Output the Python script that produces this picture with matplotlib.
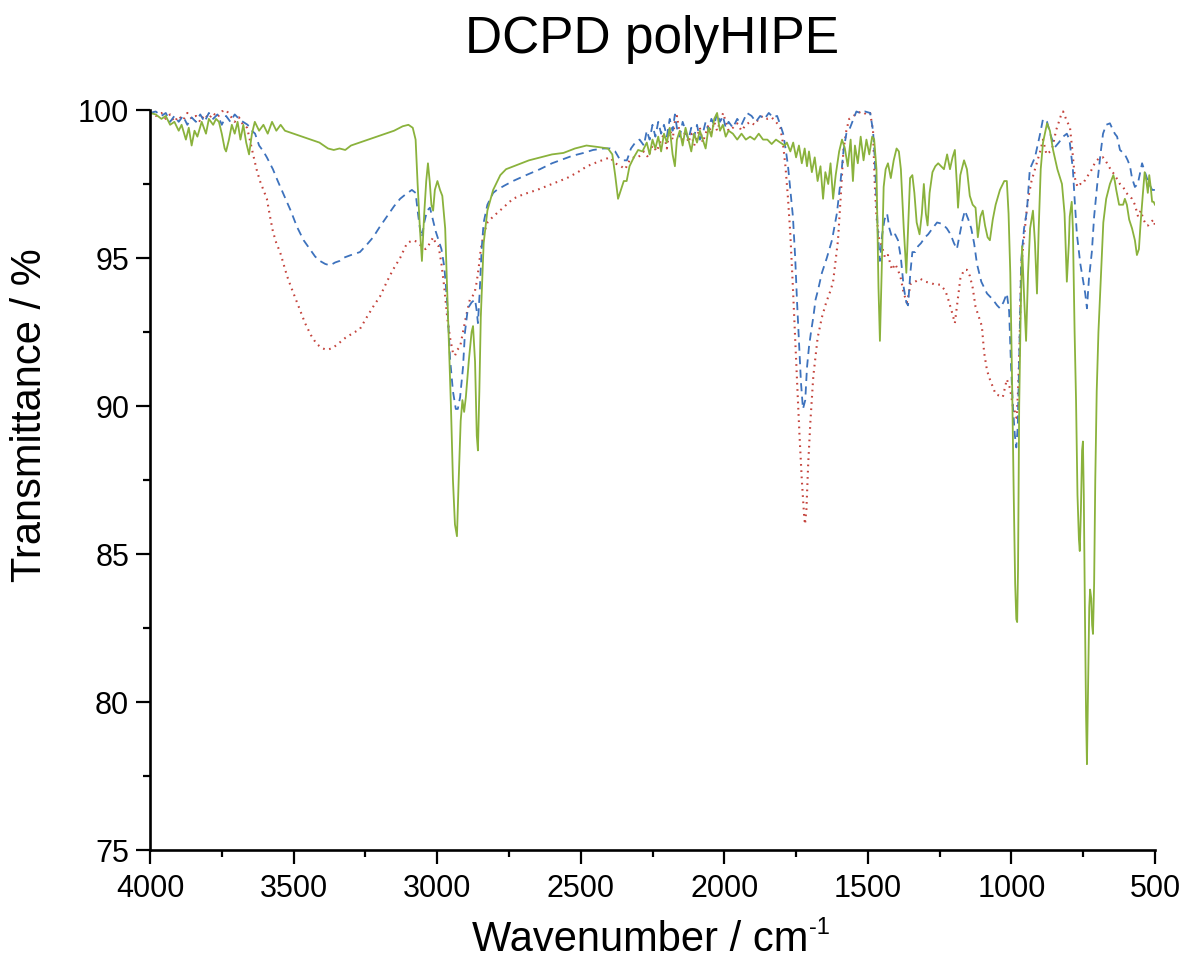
import matplotlib
matplotlib.use("Agg")
import matplotlib.pyplot as plt

plt.rcParams["font.family"] = ["Liberation Sans", "DejaVu Sans"]

# ──────────────────────────────────────────────
#  Data (wavenumber in cm-1, transmittance in %)
# ──────────────────────────────────────────────
green_wn = [
    4000, 3980, 3960, 3945, 3930, 3915, 3900, 3890, 3875, 3865, 3855, 3845, 3835, 3820,
    3805, 3795, 3780, 3770, 3760, 3750, 3740, 3735, 3725, 3715, 3705, 3695, 3685, 3675,
    3665, 3655, 3645, 3635, 3620, 3605, 3590, 3575, 3560, 3545, 3530, 3500, 3470, 3440,
    3410, 3380, 3360, 3340, 3320, 3300, 3270, 3240, 3210, 3180, 3150, 3120, 3100, 3085,
    3075, 3068, 3060, 3053, 3045, 3038, 3032, 3026, 3020, 3014, 3008, 2999, 2990, 2982,
    2972, 2962, 2952, 2945, 2938, 2931, 2925, 2918, 2912, 2906, 2900, 2890, 2880, 2875,
    2868, 2862, 2858, 2853, 2848, 2838, 2825, 2805, 2780, 2760, 2720, 2680, 2640, 2600,
    2560, 2520, 2480, 2440, 2405, 2390, 2380, 2370, 2360, 2350, 2340, 2330, 2315, 2300,
    2285, 2270, 2260, 2250, 2240, 2230, 2220, 2210, 2200, 2190, 2180, 2172, 2165, 2155,
    2145, 2135, 2125, 2115, 2105, 2095, 2085, 2075, 2065, 2055, 2045, 2035, 2025, 2015,
    2005, 1995, 1985, 1970, 1955, 1940, 1925, 1910, 1895, 1880, 1865, 1850, 1835, 1820,
    1805, 1790, 1782, 1770, 1760, 1750, 1740, 1730, 1720, 1712, 1705, 1695, 1685, 1675,
    1665, 1656, 1648, 1638, 1630, 1621, 1612, 1600, 1590, 1580, 1570, 1560, 1552, 1545,
    1535, 1525, 1515, 1505, 1495, 1485, 1478, 1470, 1463, 1458, 1452, 1445, 1438, 1430,
    1420, 1410, 1400, 1392, 1385, 1375, 1366, 1360, 1353, 1345, 1338, 1330, 1320, 1312,
    1305, 1298, 1292, 1285, 1275, 1265, 1255, 1245, 1235, 1224, 1214, 1205, 1197, 1190,
    1186, 1178, 1165, 1155, 1145, 1135, 1125, 1117, 1108, 1100, 1092, 1083, 1075, 1065,
    1055, 1040, 1025, 1016, 1010, 1004, 998, 992, 987, 983, 980, 977, 973, 968,
    963, 955, 949, 942, 935, 925, 918, 911, 905, 898, 890, 876, 866, 855,
    840, 824, 815, 807, 800, 797, 790, 786, 780, 775, 770, 765, 762, 758,
    754, 751, 748, 744, 740, 737, 733, 729, 726, 722, 719, 716, 712, 708,
    703, 697, 692, 686, 680, 670, 657, 645, 640, 635, 625, 611, 605, 598,
    590, 580, 570, 563, 556, 550, 542, 536, 530, 525, 520, 515, 510, 505, 500,
]
green_t = [
    99.9, 99.85, 99.7, 99.8, 99.5, 99.6, 99.3, 99.5, 99.0, 99.4, 98.8, 99.3, 99.1, 99.6,
    99.2, 99.7, 99.5, 99.7, 99.6, 99.2, 98.7, 98.6, 99.0, 99.5, 99.2, 99.6, 99.0, 99.5,
    98.9, 98.5, 99.2, 99.6, 99.3, 99.5, 99.2, 99.6, 99.3, 99.5, 99.3, 99.2, 99.1, 99.0,
    98.9, 98.7, 98.65, 98.7, 98.65, 98.8, 98.9, 99.0, 99.1, 99.2, 99.3, 99.45, 99.5, 99.4,
    99.0, 97.5, 96.0, 94.9, 96.5, 97.6, 98.2, 97.6, 96.8, 96.6, 97.3, 97.6, 97.3, 97.1,
    96.0, 93.0, 90.0, 87.5, 86.0, 85.6, 87.5, 89.5, 90.2, 89.8, 90.3, 91.5, 92.5, 92.7,
    91.5, 89.0, 88.5, 90.5, 93.0, 95.5, 96.6, 97.3, 97.8, 98.0, 98.15, 98.3, 98.4, 98.5,
    98.55, 98.7, 98.8, 98.75, 98.7, 98.5, 97.8, 97.0, 97.3, 97.6, 97.6, 98.1, 98.4, 98.65,
    98.6, 98.9, 98.5, 99.0, 98.7, 99.1, 98.6, 99.2, 98.9, 99.4, 98.5, 98.1, 99.0, 99.3,
    98.8, 99.4, 99.0, 98.6, 99.2, 98.9, 99.3, 99.0, 98.7, 99.4, 99.1, 99.7, 99.9, 99.3,
    99.5, 99.1, 99.3, 99.2, 99.0, 99.2, 99.0, 99.1, 99.0, 99.2, 99.0, 99.0, 98.85, 99.0,
    98.9, 98.8, 98.9, 98.6, 98.9, 98.4, 98.8, 98.2, 98.7, 98.1, 98.6, 97.9, 98.4, 97.6,
    98.1, 97.0, 97.9, 97.5, 98.2, 97.0, 97.8, 98.6, 99.0, 98.7, 98.1, 99.0, 97.6, 98.8,
    98.2, 99.1, 98.3, 99.0, 98.5, 99.1, 99.0, 98.0, 94.0, 92.2, 94.5, 97.4, 98.0, 98.2,
    97.7, 98.3, 98.7, 98.6, 98.0, 96.0, 94.5, 96.0, 97.7, 97.8, 97.2, 96.2, 95.8, 96.5,
    97.5, 96.5, 96.1, 97.2, 97.9, 98.1, 98.2, 98.1, 98.0, 98.5, 98.0, 98.4, 98.65, 97.5,
    96.7, 97.8, 98.3, 98.0, 97.1, 96.8, 96.7, 95.7, 96.4, 96.6, 96.1, 95.7, 95.6, 96.3,
    96.8, 97.3, 97.6, 97.6, 96.5, 94.5, 91.0, 87.0, 84.0, 82.8, 82.7, 84.5, 90.0, 93.0,
    95.4, 93.5, 92.2, 94.5, 96.0, 96.6, 95.5, 93.8, 96.0, 98.0, 98.9, 99.55, 99.3, 98.65,
    98.0, 97.5, 96.5, 94.2, 95.5, 96.4, 96.9, 96.0, 92.5, 90.2, 87.0, 85.5, 85.1, 86.5,
    88.5, 88.8, 87.0, 83.0, 79.5, 77.9, 80.5, 83.2, 83.8, 83.5, 82.6, 82.3, 84.0, 87.5,
    90.5, 92.5, 93.6, 95.0, 96.2, 97.0, 97.5, 97.8, 97.6, 97.3, 96.8, 96.8, 97.0, 96.8,
    96.3, 96.0, 95.6, 95.1, 95.3, 96.2, 97.2, 97.9, 97.6, 97.2, 97.8, 97.4, 96.9, 96.9, 96.8,
]

blue_wn = [
    4000, 3980, 3960, 3945, 3930, 3915, 3900, 3885, 3870, 3855, 3840, 3825, 3810, 3795,
    3780, 3765, 3750, 3735, 3720, 3705, 3690, 3676, 3660, 3645, 3634, 3620, 3605, 3593,
    3572, 3555, 3537, 3510, 3488, 3465, 3443, 3425, 3408, 3390, 3373, 3355, 3340, 3328,
    3300, 3269, 3245, 3223, 3200, 3175, 3150, 3129, 3110, 3088, 3075, 3068, 3060, 3053,
    3045, 3035, 3025, 3015, 3005, 2995, 2985, 2975, 2965, 2955, 2945, 2935, 2928, 2920,
    2910, 2903, 2893, 2880, 2868, 2862, 2858, 2852, 2845, 2838, 2825, 2805, 2792, 2765,
    2736, 2690, 2642, 2600, 2572, 2530, 2490, 2457, 2420, 2398, 2380, 2365, 2350, 2339,
    2325, 2310, 2295, 2280, 2270, 2260, 2250, 2240, 2230, 2220, 2210, 2200, 2190, 2180,
    2172, 2165, 2155, 2145, 2135, 2125, 2115, 2105, 2095, 2085, 2075, 2065, 2055, 2045,
    2035, 2025, 2015, 2005, 1995, 1985, 1970, 1955, 1940, 1921, 1905, 1890, 1875, 1860,
    1845, 1830, 1816, 1805, 1795, 1785, 1778, 1770, 1761, 1753, 1747, 1740, 1733, 1726,
    1718, 1712, 1705, 1698, 1690, 1682, 1674, 1660, 1643, 1625, 1608, 1595, 1585, 1575,
    1562, 1550, 1540, 1527, 1510, 1492, 1482, 1476, 1470, 1465, 1458, 1450, 1442, 1433,
    1425, 1416, 1405, 1395, 1385, 1375, 1366, 1360, 1352, 1345, 1335, 1325, 1315, 1301,
    1290, 1275, 1259, 1240, 1225, 1212, 1200, 1190, 1180, 1170, 1162, 1150, 1140, 1130,
    1120, 1105, 1085, 1065, 1050, 1040, 1028, 1016, 1008, 1002, 995, 988, 983, 978,
    972, 966, 956, 946, 936, 918, 900, 890, 876, 865, 855, 848, 835, 820,
    807, 798, 786, 780, 772, 760, 750, 743, 737, 730, 720, 712, 700, 690,
    681, 670, 657, 650, 640, 632, 622, 605, 595, 587, 580, 570, 560, 545,
    535, 525, 515, 510, 500,
]
blue_t = [
    99.9, 99.95, 99.8, 99.9, 99.6, 99.8, 99.6, 99.8, 99.5, 99.75, 99.6, 99.85, 99.6, 99.9,
    99.7, 99.85, 99.5, 99.8, 99.6, 99.85, 99.7, 99.6, 99.5, 99.3, 99.2, 98.8, 98.6, 98.4,
    98.0, 97.6, 97.2, 96.6, 96.05, 95.6, 95.3, 95.05, 94.9, 94.8, 94.75, 94.85, 94.9, 95.0,
    95.1, 95.2, 95.45, 95.7, 96.05, 96.4, 96.75, 97.0, 97.15, 97.3, 97.2, 96.6, 96.0, 95.7,
    96.2, 96.6, 96.7, 96.3, 95.9, 95.6, 95.3, 94.7, 93.5, 91.6, 90.5, 89.9, 89.9, 90.3,
    91.3, 92.5, 93.3, 93.5, 93.6, 93.2, 92.8, 93.8, 95.3, 96.2, 96.8, 97.2, 97.3, 97.45,
    97.6, 97.8, 98.0, 98.2, 98.3, 98.45, 98.55, 98.65, 98.7, 98.7, 98.6, 98.35, 98.3, 98.3,
    98.7, 98.9, 99.0, 98.8, 99.3, 99.0, 99.5, 99.1, 99.6, 99.2, 99.5, 99.1, 99.7, 99.3,
    99.85, 99.4, 99.1, 99.6, 99.3, 99.0, 99.4, 99.1, 99.5, 99.0, 99.2, 99.6, 99.3, 99.7,
    99.5, 99.9, 99.6, 99.8, 99.4, 99.6, 99.4, 99.7, 99.5, 99.9, 99.8, 99.6, 99.8, 99.7,
    99.9, 99.75, 99.8, 99.5, 99.2, 98.6, 98.1, 97.3, 96.4, 95.0, 93.6, 92.2, 90.8, 89.9,
    90.2, 91.3, 92.0, 92.5, 93.0, 93.6, 93.9, 94.5, 95.0, 95.6, 96.5, 97.6, 98.6, 99.2,
    99.4, 99.7, 99.95, 99.9, 99.95, 99.9, 99.3, 98.4, 97.0, 95.8, 94.9, 95.8, 96.3, 96.5,
    96.0, 95.7, 95.8, 95.6, 95.0, 94.0, 93.5, 93.4, 94.5, 95.2, 95.2, 95.4, 95.5, 95.7,
    95.8, 96.0, 96.2, 96.15, 96.0, 95.8, 95.5, 95.3, 95.8, 96.3, 96.6, 96.3, 96.0, 95.5,
    94.8, 94.2, 93.8, 93.6, 93.4, 93.3, 93.5, 93.8, 93.2, 91.5, 90.0, 89.0, 88.6, 89.3,
    92.0, 94.9, 96.0, 96.6, 98.0, 98.4, 99.2, 99.7, 99.6, 99.2, 98.9, 98.75, 98.9, 99.1,
    99.2, 99.0, 98.0, 97.0, 95.8, 94.8, 94.2, 93.8, 93.3, 94.3, 95.2, 96.4, 97.6, 98.5,
    99.2, 99.5, 99.55, 99.4, 99.2, 99.1, 98.65, 98.5, 98.3, 98.1, 97.7, 97.4, 97.5, 98.2,
    97.9, 97.6, 97.4, 97.3, 97.3,
]

red_wn = [
    4000, 3980, 3960, 3945, 3930, 3915, 3900, 3885, 3870, 3855, 3840, 3825, 3810, 3795,
    3780, 3765, 3750, 3735, 3720, 3705, 3690, 3676, 3662, 3650, 3641, 3629, 3617, 3605,
    3593, 3582, 3572, 3560, 3547, 3535, 3523, 3510, 3500, 3480, 3460, 3440, 3420, 3400,
    3385, 3365, 3345, 3320, 3295, 3269, 3245, 3220, 3199, 3175, 3154, 3129, 3105, 3085,
    3070, 3055, 3040, 3025, 3014, 3005, 2995, 2985, 2975, 2965, 2955, 2945, 2938, 2930,
    2920, 2910, 2900, 2886, 2870, 2862, 2855, 2848, 2838, 2825, 2805, 2770, 2736, 2700,
    2652, 2600, 2548, 2510, 2478, 2440, 2398, 2380, 2360, 2345, 2330, 2315, 2300, 2280,
    2265, 2250, 2235, 2224, 2210, 2200, 2190, 2180, 2172, 2165, 2155, 2145, 2135, 2125,
    2115, 2105, 2095, 2085, 2075, 2065, 2055, 2045, 2035, 2025, 2015, 2004, 1995, 1985,
    1970, 1955, 1940, 1925, 1910, 1895, 1880, 1865, 1850, 1835, 1820, 1805, 1796, 1787,
    1778, 1770, 1761, 1752, 1745, 1738, 1730, 1722, 1719, 1714, 1708, 1700, 1690, 1675,
    1660, 1645, 1630, 1621, 1604, 1595, 1585, 1575, 1565, 1550, 1535, 1520, 1505, 1492,
    1482, 1476, 1470, 1460, 1451, 1440, 1430, 1416, 1405, 1395, 1385, 1375, 1364, 1350,
    1335, 1318, 1300, 1280, 1265, 1249, 1230, 1220, 1208, 1197, 1188, 1178, 1165, 1155,
    1145, 1135, 1125, 1110, 1103, 1095, 1085, 1075, 1055, 1030, 1016, 1005, 995, 988,
    982, 977, 972, 966, 958, 948, 942, 930, 915, 900, 890, 878, 865, 855,
    845, 838, 828, 820, 810, 796, 788, 779, 770, 760, 751, 740, 725, 710,
    702, 692, 681, 670, 655, 640, 622, 611, 600, 580, 570, 559, 550, 540,
    530, 524, 515, 505, 500,
]
red_t = [
    99.9, 99.8, 99.9, 99.7, 99.85, 99.6, 99.8, 99.65, 99.9, 99.7, 99.8, 99.6, 99.85, 99.7,
    99.9, 99.75, 99.95, 100.0, 99.8, 99.6, 99.75, 99.5, 99.4, 98.9, 98.5, 98.0, 97.6, 97.3,
    97.0, 96.4, 95.9, 95.5, 95.2, 94.8, 94.4, 94.05, 93.8, 93.3, 92.8, 92.4, 92.1, 91.95,
    91.9, 91.95, 92.1, 92.3, 92.45, 92.6, 93.0, 93.4, 93.7, 94.2, 94.6, 95.0, 95.5, 95.6,
    95.55, 95.4, 95.3, 95.5, 95.7, 95.5, 95.4, 94.8, 94.0, 93.0, 92.3, 91.8, 91.7, 91.9,
    92.0, 92.5, 93.0, 93.6, 93.8, 94.2, 94.7, 95.3, 95.8, 96.2, 96.4, 96.7, 97.0, 97.15,
    97.3, 97.5, 97.7, 97.9, 98.1, 98.25, 98.4, 98.2, 98.1, 98.0, 98.3, 98.4, 98.4, 98.6,
    98.4, 98.8, 98.6, 98.9, 99.2, 98.7, 99.4, 99.0, 99.6, 99.8, 99.2, 99.0, 99.3, 98.9,
    99.2, 98.8, 99.1, 99.4, 98.9, 99.2, 99.5, 99.2, 99.6, 99.3, 99.6, 99.9, 99.6, 99.3,
    99.4, 99.55, 99.3, 99.5, 99.6, 99.5, 99.7, 99.8, 99.7, 99.75, 99.6, 99.4, 98.9, 98.1,
    97.0, 95.8, 94.0, 92.0, 90.5, 89.0, 87.5, 86.3, 86.0, 86.5, 88.0, 89.5, 91.0, 92.3,
    93.0, 93.5, 93.9, 94.2, 95.6, 97.0, 98.65, 99.3, 99.7, 99.8, 99.9, 99.95, 99.85, 99.9,
    99.3, 97.5, 96.4, 95.6, 95.4, 95.0, 95.1, 94.6, 94.8, 94.6, 94.3, 93.8, 93.5, 94.15,
    94.2, 94.3, 94.2, 94.15, 94.1, 94.1, 93.9, 93.6, 93.2, 92.8, 93.5, 94.3, 94.6, 94.6,
    94.4, 94.0, 93.35, 92.9, 92.7, 91.8, 91.2, 90.9, 90.4, 90.3, 90.9, 90.6, 90.0, 89.8,
    89.6, 90.5, 92.0, 94.7, 95.5, 96.5, 97.0, 97.6, 98.1, 98.6, 99.0, 98.5, 98.6, 98.8,
    99.3, 99.5, 99.8, 99.95, 99.7, 99.4, 98.65, 97.7, 97.4, 97.5, 97.5, 97.7, 97.9, 98.2,
    98.3, 98.4, 98.4, 98.25, 98.0, 97.8, 97.5, 97.4, 97.2, 97.0, 96.8, 96.4, 96.6, 96.3,
    96.1, 96.1, 96.2, 96.3, 96.1,
]

x_ticks = [4000, 3500, 3000, 2500, 2000, 1500, 1000, 500]
x_minor = [3750, 3250, 2750, 2250, 1750, 1250, 750]
y_ticks = [75, 80, 85, 90, 95, 100]
y_minor = [77.5, 82.5, 87.5, 92.5, 97.5]

GREEN = "#8AB23C"
BLUE = "#3D72BD"
RED = "#C4433C"

# ──────────────────────────────────────────────
#  Figure
# ──────────────────────────────────────────────
fig = plt.figure(figsize=(11.81, 9.68), dpi=100)
ax = fig.add_axes([150 / 1181, 118 / 968, 1005 / 1181, 740 / 968])

ax.plot(red_wn, red_t, color=RED, linewidth=1.5, linestyle=(0, (0.8, 2.2)))
ax.plot(blue_wn, blue_t, color=BLUE, linewidth=1.3, linestyle=(0, (4.5, 3)))
ax.plot(green_wn, green_t, color=GREEN, linewidth=1.3)

ax.set_xlim(4000, 500)
ax.set_ylim(75, 100)
ax.set_xticks(x_ticks)
ax.set_yticks(y_ticks)
ax.set_xticks(x_minor, minor=True)
ax.set_yticks(y_minor, minor=True)

for side in ["top", "right"]:
    ax.spines[side].set_visible(False)
for side in ["left", "bottom"]:
    ax.spines[side].set_linewidth(1.9)

ax.tick_params(which="major", direction="out", length=10, width=1.6, labelsize=22)
ax.tick_params(which="minor", direction="out", length=5, width=1.6)
ax.tick_params(axis="x", which="major", pad=7)
ax.tick_params(axis="y", which="major", pad=5)

# titles and axis labels (superscript "-1" drawn as its own small text)
fig.text(652 / 1181, 1 - 40 / 968, "DCPD polyHIPE", fontsize=37,
         ha="center", va="center")
xlab = fig.text(640 / 1181, 1 - 940 / 968, "Wavenumber / cm", fontsize=30,
                ha="center", va="center")
fig.canvas.draw()
bb = xlab.get_window_extent()
fig.text((bb.x1 + 1) / 1181, (bb.y1 + 3) / 968, "-1", fontsize=17,
         ha="left", va="top")
fig.text(30 / 1181, 1 - 415 / 968, "Transmittance / %", fontsize=30,
         ha="center", va="center", rotation=90)

fig.savefig("out.png", dpi=100)
